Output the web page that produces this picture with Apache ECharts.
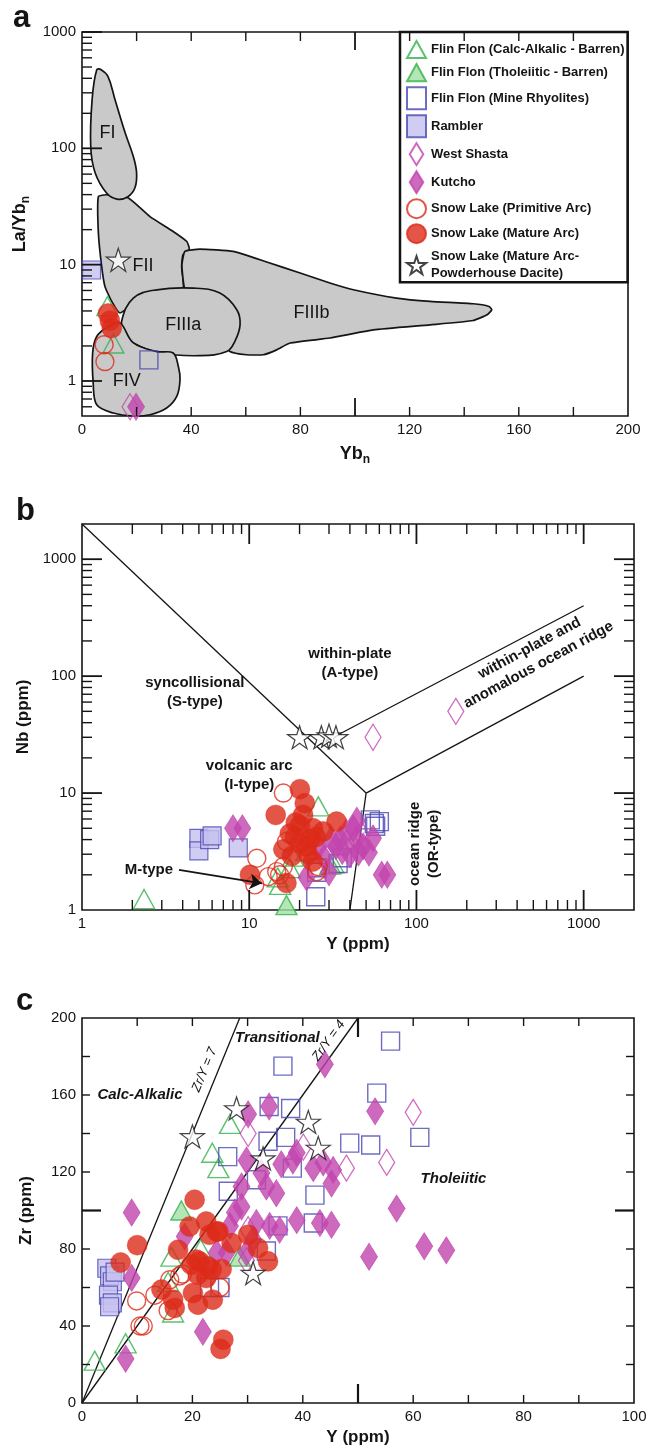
<!DOCTYPE html>
<html>
<head>
<meta charset="utf-8">
<script src="https://cdn.jsdelivr.net/npm/echarts@6/dist/echarts.min.js"></script>
<style>
  html, body { margin: 0; padding: 0; background: #fff; }
  #chart { width: 660px; height: 1451px; }
</style>
</head>
<body>
<div id="chart"></div>
<script>
// ---------- group names (legend order) ----------
const NAME_CALC = 'Flin Flon (Calc-Alkalic - Barren)';
const NAME_THOL = 'Flin Flon (Tholeiitic - Barren)';
const NAME_MINE = 'Flin Flon (Mine Rhyolites)';
const NAME_RAMB = 'Rambler';
const NAME_WSHA = 'West Shasta';
const NAME_KUTC = 'Kutcho';
const NAME_PRIM = 'Snow Lake (Primitive Arc)';
const NAME_MATU = 'Snow Lake (Mature Arc)';
const NAME_PDD  = 'Snow Lake (Mature Arc-\nPowderhouse Dacite)';

// ---------- panel a: La/Yb(n) vs Yb(n) ----------
const A_xLabels = [0, 40, 80, 120, 160, 200];
const A_yLabels = [1, 10, 100, 1000];
const A_xTicks = [20, 40, 60, 80, 120, 140, 160, 180];
const A_xTicksMid = [100];
const A_yTicksMajor = [1, 10, 100, 1000];
const A_yTicksMinor = [0.6, 0.7, 0.8, 0.9, 2, 3, 4, 5, 6, 7, 8, 9, 20, 30, 40, 50, 60, 70, 80, 90, 200, 300, 400, 500, 600, 700, 800, 900];

const A_fieldFI = [[5.4,474],[3.7,262],[3.2,103],[4.8,61.7],[9.0,41.3],[12.8,36.6],[16.8,38.4],[19.4,45.8],[20.0,61.3],[18.8,85],[15.8,136],[12.1,262],[9.5,415],[7.0,474]];
const A_fieldFII = [[6.0,38.5],[9.0,39.9],[17.0,37.4],[24.9,25.9],[33.4,19.3],[38.4,15.8],[39.3,13.6],[37.0,12.2],[36.5,9.66],[36.9,6.08],[21.2,4.99],[13.9,3.84],[10.9,4.83],[8.4,6.5],[7.2,9.66],[6.0,18.7]];
const A_fieldFIIIb = [[37.7,13.0],[43.2,13.6],[55.3,13.0],[67.4,10.6],[79.9,8.47],[90.8,6.95],[99.4,6.08],[115.2,5.16],[127.5,4.83],[143.3,4.61],[149.1,4.37],[150.1,4.10],[148.4,3.71],[143.3,3.31],[127.5,3.04],[106.7,2.75],[90.8,2.34],[76.2,2.12],[71.3,1.85],[66.4,1.68],[60.3,1.68],[54.2,1.79],[46.9,2.75],[37.7,6.08],[36.6,9.86]];
const A_fieldFIIIa = [[14.5,3.25],[18.8,5.16],[27.4,6.08],[40.8,6.29],[50.5,5.70],[56.7,4.10],[57.9,3.04],[56.0,2.19],[53.0,1.79],[43.2,1.65],[28.6,1.74],[18.8,2.12],[15.8,2.58]];
const A_fieldFIV = [[5.4,2.41],[9.5,2.92],[13.9,3.16],[18.7,2.14],[27.4,1.79],[33.4,1.74],[35.3,1.33],[35.9,1.02],[34.7,0.736],[31.0,0.585],[24.9,0.513],[18.7,0.5],[11.5,0.53],[5.4,0.624],[4.1,0.96],[3.9,1.74]];
const A_fieldLabels = [
  { text: 'FI', at: [9.3, 136] },
  { text: 'FII', at: [22.3, 9.7] },
  { text: 'FIIIa', at: [37.1, 3.04] },
  { text: 'FIIIb', at: [84.1, 3.84] },
  { text: 'FIV', at: [16.4, 1.0] }
];

const A_calc = [[9.3,4.4],[11.5,2.1]];
const A_mine = [[24.5,1.52]];
const A_ramb = [[3.5,9.0]];
const A_wsha = [[17.6,0.60]];
const A_kutc = [[19.8,0.60]];
const A_prim = [[8.1,2.05],[8.4,1.47]];
const A_matu = [[9.5,3.8],[10.2,3.3],[10.9,2.85]];
const A_pdd  = [[13.3,11.0]];

// ---------- panel b: Nb vs Y ----------
const B_xLabels = [1, 10, 100, 1000];
const B_yLabels = [1, 10, 100, 1000];
const B_ticksMajor = [10, 100, 1000];
const B_ticksMinor = [2, 3, 4, 5, 6, 7, 8, 9, 20, 30, 40, 50, 60, 70, 80, 90, 200, 300, 400, 500, 600, 700, 800, 900];

const B_synLine = [[1, 2000], [50, 10]];
const B_bandUpper = [[25, 25], [1000, 400]];
const B_bandLower = [[50, 10], [1000, 100]];
const B_orgLine = [[50, 10], [40, 1]];
const B_arrow = [[3.8, 2.2], [11.9, 1.69]];
const B_notes = [
  { text: 'syncollisional\n(S-type)', at: [4.73, 72] },
  { text: 'within-plate\n(A-type)', at: [40, 128] },
  { text: 'volcanic arc\n(I-type)', at: [10, 14.1] },
  { text: 'M-type', at: [2.51, 2.2] },
  { text: 'ocean ridge\n(OR-type)', at: [112, 3.68], vertical: true },
  { text: 'within-plate and\nanomalous ocean ridge', at: [505, 147], along: B_bandLower }
];

const B_calc = [[2.35,1.24],[25.9,7.7],[15.3,1.64],[18.3,2.86],[31.8,2.51],[17.5,2.28],[22,3.2],[14.8,1.9]];
const B_thol = [[16.7,1.1],[30.5,2.45]];
const B_mine = [[25,1.3],[25.3,2.1],[34,2.5],[36,2.8],[53,5.9],[56,5.5],[60,5.7],[57,5.2],[25.5,2.3]];
const B_ramb = [[5.0,4.1],[5.0,3.2],[5.8,4.0],[6.0,4.3],[8.6,3.4]];
const B_wsha = [[55,30],[172,50],[38,3.7],[47,4.4]];
const B_kutc = [[8.0,5.0],[9.1,5.0],[22,1.9],[26,3.5],[28,2.8],[30,2.1],[31,4.0],[33,3.5],[35,4.0],[36,3.2],[38,4.6],[40,3.0],[42,5.0],[44,5.8],[44,4.0],[45,3.1],[48,3.5],[52,3.1],[55,4.1],[62,2.0],[67,2.0]];
const B_prim = [[16,10],[11.1,2.77],[10.8,1.64],[13,1.93],[14.6,2.13],[16,2.35],[16.7,3.85],[25.3,2.13],[25.9,2.35],[15.2,2.0]];
const B_matu = [[20.1,10.8],[21.5,8.2],[14.4,6.5],[33.3,5.7],[17.5,4.5],[20.1,5.3],[24.1,5.0],[27.7,4.7],[16,3.3],[22.5,3.0],[20.1,3.7],[16.7,1.7],[10.1,2.0],[23.1,4.0],[18.8,4.2],[21,6.5],[19,5.6],[25,4.2],[22,3.5],[24,2.6],[18,2.9]];
const B_pdd  = [[20,30],[27,30],[30,31],[33,30]];

// ---------- panel c: Zr vs Y ----------
const C_xLabels = [0, 20, 40, 60, 80, 100];
const C_yLabels = [0, 40, 80, 120, 160, 200];
const C_xTicks = [10, 20, 30, 40, 60, 70, 80, 90];
const C_xTicksMid = [50];
const C_yTicks = [20, 40, 60, 80, 120, 140, 160, 180];
const C_yTicksMid = [100];

const C_zr7 = [[0, 0], [200 / 7, 200]];
const C_zr4 = [[0, 0], [50, 200]];
const C_fieldNotes = [
  { text: 'Calc-Alkalic', at: [10.5, 160] },
  { text: 'Transitional', at: [35.4, 189.6] },
  { text: 'Tholeiitic', at: [67.3, 116.4] }
];
const C_lineNotes = [
  { text: 'Zr/Y = 7', at: [22.2, 173.1], along: C_zr7 },
  { text: 'Zr/Y = 4', at: [44.7, 188.2], along: C_zr4 }
];

const C_calc = [[2.3,22],[7.9,31],[26.8,145],[23.6,130],[24.7,122],[16.5,47],[16.2,76],[15.6,63],[21.5,80]];
const C_thol = [[18,100],[28.6,76]];
const C_mine = [[36.4,175],[33.9,154],[37.8,153],[33.7,136],[36.9,138],[26.4,128],[38.1,122],[31.6,116],[26.5,110],[42.2,108],[35.5,92],[41.9,93.5],[33.4,79],[25,60],[23.1,60],[55.9,188],[53.4,161],[48.5,135],[52.3,134],[61.2,138]];
const C_ramb = [[4.5,70],[5,66],[5.5,63],[4.8,56],[5.5,52],[5,50],[6,68]];
const C_wsha = [[30.1,140],[40.1,133],[29.8,74],[30.1,90],[60,151],[55.2,125],[47.9,122]];
const C_kutc = [[9,99],[9,65],[7.9,23],[21.9,37],[30.1,150],[33.9,154],[29.8,126],[28.9,112.5],[32.5,119.5],[33.4,112.5],[35.2,109],[36.1,124],[38.2,126],[38.9,130],[41.9,122],[43.7,125],[44,176],[27.7,99],[28.9,102],[26.8,92],[31.6,93.5],[35.8,90],[38.9,95],[43.1,93.5],[29.8,78],[26.2,78],[18.6,86.5],[53.1,151.5],[57,101],[52,76],[62,81.4],[66,79.3],[45.5,121],[45.2,114],[45.2,92.6],[34,92],[31,85],[24.4,78]];
const C_prim = [[9.9,53],[10.5,40],[11.1,40],[13.2,56],[15.9,64],[15.6,48],[18.2,67],[17.7,66],[25,60]];
const C_matu = [[7,73],[10,82],[20.4,105.6],[19.5,91.7],[22.5,94.3],[23.1,87.4],[24.7,89.1],[17.4,79.6],[19.8,71.8],[21.3,73.6],[22.8,71],[21,66.6],[22.5,64.9],[25.3,69.6],[27.1,83.1],[30.1,87.4],[31.9,80.5],[33.7,73.6],[14.4,58.9],[16.5,53.7],[16.8,49.4],[20.1,57.1],[21,51.1],[23.7,53.7],[25.6,32.9],[25.1,28.1],[20.7,74.5],[23.5,69.3],[24.4,89.1]];
const C_pdd  = [[28,153],[20,138.5],[41,146],[32.8,127],[42.8,132.5],[31,67.5]];

// ---------- styling ----------
const FONT = "'Liberation Sans', Arial, Helvetica, sans-serif";
const INK = '#141414';
const GREEN = '#33b24a', GREEN_FILL = '#a3e0a3';
const BLUE = '#4a47b3', BLUE_FILL = '#c5c1ef';
const MAGENTA = '#c245ae';
const RED = '#dc2b19';
const NONE = 'rgba(0,0,0,0)';

const TRI = 'path://M10,0 L20,18 L0,18 Z';
const DIA = 'path://M8,0 L16,13 L8,26 L0,13 Z';
const STAR = 'path://M50,2 L61.2,36.6 L97.6,36.6 L68.2,58 L79.4,92.6 L50,71.2 L20.6,92.6 L31.8,58 L2.4,36.6 L38.8,36.6 Z';

const MARK = {
  [NAME_CALC]: { symbol: TRI, size: [21, 19], itemStyle: { color: NONE, borderColor: GREEN, borderWidth: 1.4 } },
  [NAME_THOL]: { symbol: TRI, size: [21, 19], itemStyle: { color: GREEN_FILL, borderColor: GREEN, borderWidth: 1.4 } },
  [NAME_MINE]: { symbol: 'rect', size: 18, itemStyle: { color: NONE, borderColor: BLUE, borderWidth: 1.4 } },
  [NAME_RAMB]: { symbol: 'rect', size: 18, itemStyle: { color: BLUE_FILL, borderColor: BLUE, borderWidth: 1.2 } },
  [NAME_WSHA]: { symbol: DIA, size: [16, 26], itemStyle: { color: NONE, borderColor: MAGENTA, borderWidth: 1.3 } },
  [NAME_KUTC]: { symbol: DIA, size: [17, 27], itemStyle: { color: MAGENTA, borderColor: MAGENTA, borderWidth: 0.8 } },
  [NAME_PRIM]: { symbol: 'circle', size: 18, itemStyle: { color: NONE, borderColor: RED, borderWidth: 1.4 } },
  [NAME_MATU]: { symbol: 'circle', size: 20, itemStyle: { color: RED, borderColor: RED, borderWidth: 0.5 } },
  [NAME_PDD]:  { symbol: STAR, size: [24, 23], itemStyle: { color: '#fff', borderColor: INK, borderWidth: 1.2 } }
};
const LEGEND_ORDER = [NAME_CALC, NAME_THOL, NAME_MINE, NAME_RAMB, NAME_WSHA, NAME_KUTC, NAME_PRIM, NAME_MATU, NAME_PDD];

function scatter(name, data, g) {
  const m = MARK[name];
  return {
    type: 'scatter', name, xAxisIndex: g, yAxisIndex: g, data,
    symbol: m.symbol, symbolSize: m.size,
    itemStyle: m.itemStyle, z: 3, silent: true, emphasis: { disabled: true }
  };
}

function field(verts, smooth) {
  return {
    type: 'custom', xAxisIndex: 0, yAxisIndex: 0, z: 1, silent: true, data: verts,
    renderItem(params, api) {
      if (params.dataIndex !== 0) return null;
      const pts = verts.map(v => api.coord(v));
      return { type: 'polygon', shape: { points: pts, smooth },
        style: { fill: '#c8c9c8', stroke: INK, lineWidth: 1.7 } };
    }
  };
}

function boundary(g, pts) {
  return {
    type: 'line', xAxisIndex: g, yAxisIndex: g, data: pts, symbol: 'none', z: 2,
    silent: true, lineStyle: { color: INK, width: 1.3 }, emphasis: { disabled: true }
  };
}

function ticks(g, dir, values, other, sides, len, width) {
  return {
    type: 'custom', xAxisIndex: g, yAxisIndex: g, z: 6, silent: true, clip: false,
    data: values.map(v => dir === 'x' ? [v, other] : [other, v]),
    renderItem(params, api) {
      const cs = params.coordSys;
      const p = api.coord([api.value(0), api.value(1)]);
      const kids = sides.map(s => {
        let shape;
        if (s === 'bottom') shape = { x1: p[0], y1: cs.y + cs.height, x2: p[0], y2: cs.y + cs.height - len };
        if (s === 'top') shape = { x1: p[0], y1: cs.y, x2: p[0], y2: cs.y + len };
        if (s === 'left') shape = { x1: cs.x, y1: p[1], x2: cs.x + len, y2: p[1] };
        if (s === 'right') shape = { x1: cs.x + cs.width, y1: p[1], x2: cs.x + cs.width - len, y2: p[1] };
        return { type: 'line', shape, style: { stroke: INK, lineWidth: width } };
      });
      return { type: 'group', children: kids };
    }
  };
}

function notes(g, list, font, lineHeight) {
  return {
    type: 'custom', xAxisIndex: g, yAxisIndex: g, z: 7, silent: true, clip: false,
    data: list.map(n => n.at),
    renderItem(params, api) {
      const n = list[params.dataIndex];
      const p = api.coord(n.at);
      let rot = 0;
      if (n.vertical) rot = Math.PI / 2;
      if (n.along) {
        const a = api.coord(n.along[0]), b = api.coord(n.along[1]);
        rot = Math.atan2(a[1] - b[1], b[0] - a[0]);
      }
      return { type: 'text', x: p[0], y: p[1], rotation: rot,
        style: { text: n.text, font, fill: INK, align: 'center', verticalAlign: 'middle', lineHeight } };
    }
  };
}

const isPow10 = v => Math.abs(Math.log10(v) - Math.round(Math.log10(v))) < 1e-6;

function axisLabel(values, log) {
  return {
    customValues: values, fontSize: 15, color: INK, fontFamily: FONT, margin: 6,
    formatter: v => {
      if (log) return isPow10(v) ? String(Math.round(v)) : '';
      return values.some(t => Math.abs(t - v) < 1e-9) ? String(v) : '';
    }
  };
}

const nameStyle = {
  fontSize: 17, fontWeight: 'bold', color: INK, fontFamily: FONT,
  rich: {
    t: { fontSize: 18, fontWeight: 'bold', color: INK, fontFamily: FONT, lineHeight: 24, verticalAlign: 'middle' },
    s: { fontSize: 12, fontWeight: 'bold', color: INK, fontFamily: FONT, lineHeight: 12, verticalAlign: 'bottom' }
  }
};

function axis(g, type, min, max, labels, name, gap, extra) {
  return Object.assign({
    gridIndex: g, type, min, max, name, nameLocation: 'middle', nameGap: gap,
    nameTextStyle: nameStyle,
    axisLine: { show: false }, axisTick: { show: false }, splitLine: { show: false },
    axisLabel: axisLabel(labels, type === 'log')
  }, extra || {});
}

const gridBase = { show: true, borderColor: INK, borderWidth: 1.6, backgroundColor: NONE, containLabel: false, outerBoundsMode: 'none' };

const option = {
  animation: false,
  backgroundColor: '#fff',
  textStyle: { fontFamily: FONT },
  grid: [
    Object.assign({ left: 82, top: 32, width: 546, height: 384 }, gridBase),
    Object.assign({ left: 82, top: 524, width: 552, height: 386 }, gridBase),
    Object.assign({ left: 82, top: 1018, width: 552, height: 385 }, gridBase)
  ],
  xAxis: [
    axis(0, 'value', 0, 200, A_xLabels, '{t|Yb}{s|n}', 26),
    axis(1, 'log', 1, 2000, B_xLabels, 'Y (ppm)', 26, { logBase: 10 }),
    axis(2, 'value', 0, 100, C_xLabels, 'Y (ppm)', 26)
  ],
  yAxis: [
    axis(0, 'log', 0.5, 1000, A_yLabels, '{t|La/Yb}{s|n}', 47, { logBase: 10 }),
    axis(1, 'log', 1, 2000, B_yLabels, 'Nb (ppm)', 47, { logBase: 10 }),
    axis(2, 'value', 0, 200, C_yLabels, 'Zr (ppm)', 47)
  ],
  legend: {
    data: LEGEND_ORDER.map(n => ({ name: n, icon: MARK[n].symbol })),
    orient: 'vertical', left: 400, top: 32,
    padding: [8, 3, 0, 6], itemGap: 4, itemWidth: 19, itemHeight: 22,
    symbolKeepAspect: true, selectedMode: false,
    backgroundColor: '#fff', borderColor: INK, borderWidth: 2.5, borderRadius: 0,
    textStyle: { fontSize: 13, fontWeight: 'bold', color: INK, fontFamily: FONT, lineHeight: 17 }
  },
  graphic: [
    { type: 'text', x: 13, y: 18, style: { text: 'a', font: 'bold 31px ' + FONT, fill: INK, verticalAlign: 'middle' } },
    { type: 'text', x: 16, y: 511, style: { text: 'b', font: 'bold 31px ' + FONT, fill: INK, verticalAlign: 'middle' } },
    { type: 'text', x: 16, y: 1001, style: { text: 'c', font: 'bold 31px ' + FONT, fill: INK, verticalAlign: 'middle' } }
  ],
  series: [
    // panel a: petrogenetic fields
    field(A_fieldFII, 0.15),
    field(A_fieldFIIIb, 0.15),
    field(A_fieldFI, 0.4),
    field(A_fieldFIIIa, 0.4),
    field(A_fieldFIV, 0.35),
    notes(0, A_fieldLabels, '18px ' + FONT, 20),
    ticks(0, 'x', A_xTicks, 1, ['top', 'bottom'], 9, 1.4),
    ticks(0, 'x', A_xTicksMid, 1, ['top', 'bottom'], 18, 1.8),
    ticks(0, 'y', A_yTicksMajor, 0, ['left'], 20, 1.8),
    ticks(0, 'y', A_yTicksMinor, 0, ['left'], 10, 1.4),
    scatter(NAME_CALC, A_calc, 0),
    scatter(NAME_THOL, [], 0),
    scatter(NAME_MINE, A_mine, 0),
    scatter(NAME_RAMB, A_ramb, 0),
    scatter(NAME_WSHA, A_wsha, 0),
    scatter(NAME_KUTC, A_kutc, 0),
    scatter(NAME_PRIM, A_prim, 0),
    scatter(NAME_MATU, A_matu, 0),
    scatter(NAME_PDD, A_pdd, 0),

    // panel b: tectonic discrimination
    boundary(1, B_synLine),
    boundary(1, B_bandUpper),
    boundary(1, B_bandLower),
    boundary(1, B_orgLine),
    {
      type: 'lines', coordinateSystem: 'cartesian2d', xAxisIndex: 1, yAxisIndex: 1, z: 7, silent: true,
      data: [{ coords: B_arrow }], symbol: ['none', 'arrow'], symbolSize: 12,
      lineStyle: { color: INK, width: 1.8, opacity: 1 }
    },
    notes(1, B_notes, 'bold 15px ' + FONT, 19),
    ticks(1, 'x', B_ticksMajor, 1, ['top', 'bottom'], 20, 1.8),
    ticks(1, 'x', B_ticksMinor, 1, ['top', 'bottom'], 10, 1.4),
    ticks(1, 'y', B_ticksMajor, 1, ['left', 'right'], 20, 1.8),
    ticks(1, 'y', B_ticksMinor, 1, ['left', 'right'], 10, 1.4),
    scatter(NAME_CALC, B_calc, 1),
    scatter(NAME_THOL, B_thol, 1),
    scatter(NAME_MINE, B_mine, 1),
    scatter(NAME_RAMB, B_ramb, 1),
    scatter(NAME_WSHA, B_wsha, 1),
    scatter(NAME_KUTC, B_kutc, 1),
    scatter(NAME_PRIM, B_prim, 1),
    scatter(NAME_MATU, B_matu, 1),
    scatter(NAME_PDD, B_pdd, 1),

    // panel c: magmatic affinity
    boundary(2, C_zr7),
    boundary(2, C_zr4),
    notes(2, C_fieldNotes, 'italic bold 15px ' + FONT, 18),
    notes(2, C_lineNotes, 'italic 13px ' + FONT, 15),
    ticks(2, 'x', C_xTicks, 0, ['top', 'bottom'], 8, 1.4),
    ticks(2, 'x', C_xTicksMid, 0, ['top', 'bottom'], 19, 2.2),
    ticks(2, 'y', C_yTicks, 0, ['left', 'right'], 8, 1.4),
    ticks(2, 'y', C_yTicksMid, 0, ['left', 'right'], 19, 2.2),
    scatter(NAME_CALC, C_calc, 2),
    scatter(NAME_THOL, C_thol, 2),
    scatter(NAME_MINE, C_mine, 2),
    scatter(NAME_RAMB, C_ramb, 2),
    scatter(NAME_WSHA, C_wsha, 2),
    scatter(NAME_KUTC, C_kutc, 2),
    scatter(NAME_PRIM, C_prim, 2),
    scatter(NAME_MATU, C_matu, 2),
    scatter(NAME_PDD, C_pdd, 2)
  ]
};

const chart = echarts.init(document.getElementById('chart'), null, { renderer: 'canvas' });
chart.setOption(option);
</script>
</body>
</html>
